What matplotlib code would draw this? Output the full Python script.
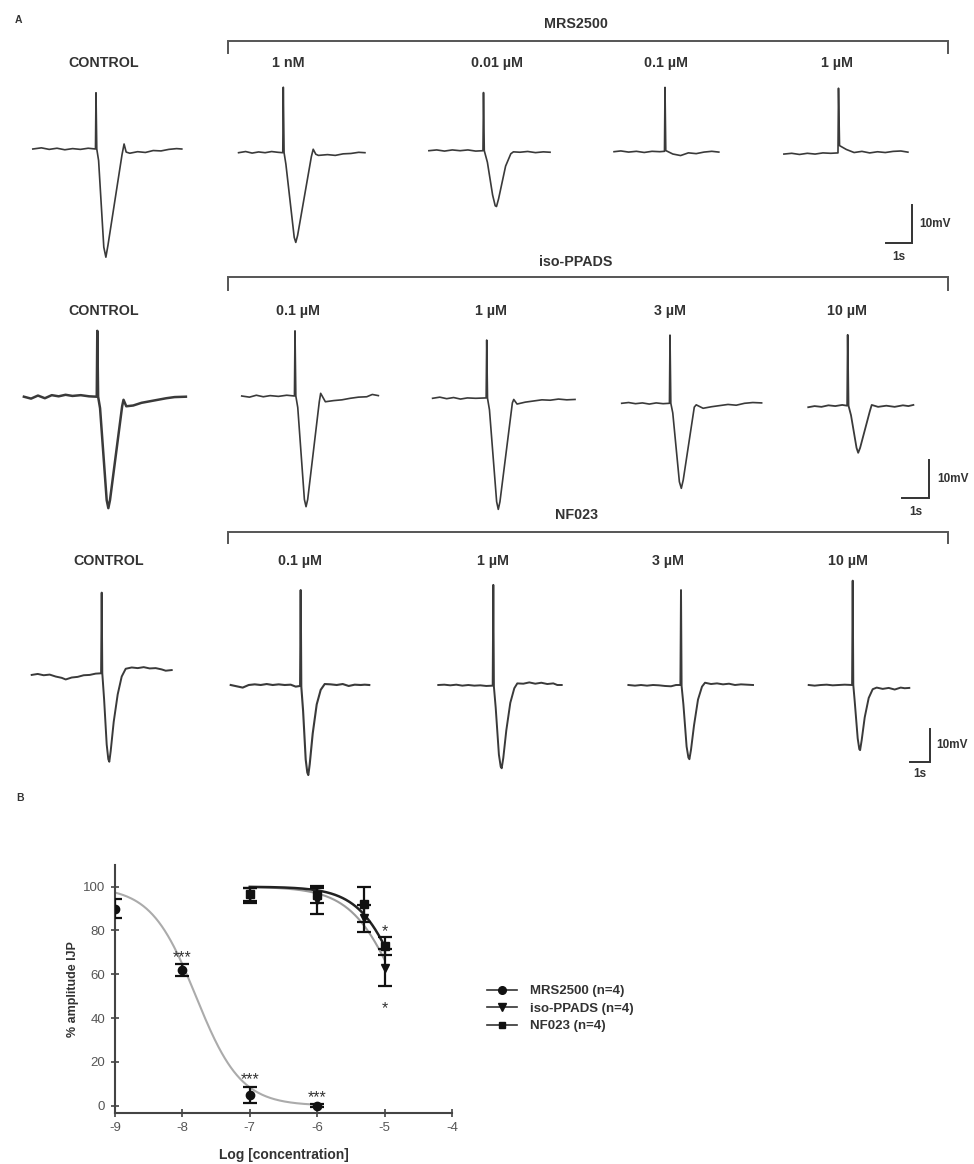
import numpy as np
import matplotlib.pyplot as plt
from matplotlib.lines import Line2D

plt.rcParams['font.family'] = ['Liberation Sans', 'DejaVu Sans']
plt.rcParams['axes.unicode_minus'] = False

W, H = 974, 1164

# ---- A: evoked responses, (time s from stimulus, mV from baseline) ----
mrs_control = [(-2.43, 0.0), (-2.1, 0.3), (-1.8, -0.1), (-1.5, 0.2), (-1.2, -0.2), (-0.9, 0.1),
               (-0.6, -0.1), (-0.3, 0.2), (-0.02, 0.0), (0.0, 14.6), (0.03, 0.0), (0.1, -3.0),
               (0.3, -25.5), (0.38, -28.1), (0.46, -25.0), (1.0, -1.5), (1.08, 1.3), (1.16, -0.8),
               (1.3, -1.1), (1.6, -0.7), (1.9, -0.9), (2.2, -0.4), (2.5, -0.5), (2.8, -0.1),
               (3.1, 0.1), (3.3, 0.0)]
mrs_1nM = [(-1.72, 0.0), (-1.45, 0.3), (-1.2, -0.1), (-0.95, 0.2), (-0.7, 0.0), (-0.45, 0.3),
           (-0.2, 0.1), (-0.02, 0.0), (0.0, 17.0), (0.03, 0.0), (0.1, -3.0), (0.42, -22.0),
           (0.48, -23.3), (0.55, -21.5), (1.08, -1.0), (1.15, 0.9), (1.25, -0.4), (1.35, -0.7),
           (1.7, -0.5), (2.0, -0.7), (2.3, -0.3), (2.6, -0.2), (2.9, 0.1), (3.14, 0.0)]
mrs_001uM = [(-2.1, 0.0), (-1.8, 0.2), (-1.5, -0.1), (-1.2, 0.2), (-0.9, 0.0), (-0.6, 0.2),
             (-0.3, -0.1), (-0.02, 0.0), (0.0, 15.1), (0.03, 0.0), (0.15, -3.0), (0.35, -11.5),
             (0.45, -14.3), (0.5, -14.5), (0.58, -12.5), (0.85, -4.0), (1.05, -0.8), (1.15, -0.3),
             (1.4, -0.4), (1.7, -0.2), (2.0, -0.5), (2.3, -0.3), (2.56, -0.4)]
mrs_01uM = [(-1.96, 0.0), (-1.7, 0.2), (-1.4, -0.1), (-1.1, 0.1), (-0.8, -0.2), (-0.5, 0.1),
            (-0.2, 0.0), (-0.02, 0.1), (0.0, 16.7), (0.03, 0.3), (0.3, -0.6), (0.6, -1.0),
            (0.9, -0.3), (1.2, -0.5), (1.5, -0.1), (1.8, 0.1), (2.07, -0.1)]
mrs_1uM = [(-2.1, -0.2), (-1.8, 0.0), (-1.5, -0.3), (-1.2, 0.0), (-0.9, -0.2), (-0.6, 0.1),
           (-0.3, 0.0), (-0.02, 0.1), (0.0, 16.9), (0.04, 2.0), (0.3, 1.0), (0.6, 0.2),
           (0.9, 0.5), (1.2, 0.1), (1.5, 0.4), (1.8, 0.2), (2.1, 0.5), (2.4, 0.6), (2.67, 0.3)]

iso_control = [(-2.66, 0.0), (-2.4, -0.5), (-2.15, 0.3), (-1.9, -0.4), (-1.65, 0.4), (-1.4, 0.1),
               (-1.15, 0.5), (-0.9, 0.2), (-0.6, 0.4), (-0.3, 0.1), (-0.02, 0.0), (0.0, 17.2),
               (0.03, 0.0), (0.1, -3.0), (0.34, -27.0), (0.40, -29.1), (0.46, -27.0), (0.9, -2.5),
               (0.95, -0.8), (1.05, -2.5), (1.3, -2.3), (1.6, -1.6), (1.9, -1.2), (2.2, -0.8),
               (2.5, -0.4), (2.8, -0.1), (3.21, 0.0)]
iso_01uM = [(-1.93, 0.0), (-1.65, -0.3), (-1.4, 0.2), (-1.15, -0.2), (-0.9, 0.1), (-0.6, -0.1),
            (-0.3, 0.2), (-0.02, 0.0), (0.0, 17.0), (0.03, 0.0), (0.1, -3.0), (0.34, -27.0),
            (0.40, -28.9), (0.46, -27.0), (0.88, -1.5), (0.93, 0.7), (1.1, -1.5), (1.4, -1.2),
            (1.7, -1.0), (2.0, -0.6), (2.3, -0.3), (2.6, -0.2), (2.8, 0.4), (3.02, 0.1)]
iso_1uM = [(-1.96, 0.0), (-1.7, 0.3), (-1.45, -0.1), (-1.2, 0.2), (-0.95, -0.2), (-0.7, 0.1),
           (-0.4, 0.0), (-0.02, 0.1), (0.0, 15.2), (0.03, 0.0), (0.1, -3.0), (0.36, -27.0),
           (0.42, -29.0), (0.48, -27.0), (0.93, -1.2), (0.98, -0.3), (1.1, -1.5), (1.4, -1.0),
           (1.7, -0.7), (2.0, -0.4), (2.3, -0.5), (2.6, -0.2), (2.9, -0.4), (3.2, -0.3)]
iso_3uM = [(-1.75, 0.0), (-1.5, 0.2), (-1.25, -0.1), (-1.0, 0.1), (-0.75, -0.2), (-0.5, 0.1),
           (-0.25, -0.1), (-0.02, 0.0), (0.0, 17.8), (0.03, 0.0), (0.1, -2.5), (0.34, -20.5),
           (0.41, -22.2), (0.48, -20.0), (0.88, -1.0), (0.95, -0.4), (1.2, -1.3), (1.5, -0.9),
           (1.8, -0.6), (2.1, -0.3), (2.4, -0.5), (2.7, 0.0), (3.0, 0.2), (3.32, 0.1)]
iso_10uM = [(-1.43, -0.4), (-1.2, -0.1), (-0.95, -0.3), (-0.7, 0.1), (-0.45, -0.1), (-0.2, 0.2),
            (-0.02, 0.0), (0.0, 18.5), (0.03, 0.0), (0.12, -2.5), (0.32, -11.0), (0.38, -12.3),
            (0.45, -11.0), (0.8, -1.5), (0.87, 0.2), (1.1, -0.3), (1.4, 0.0), (1.7, -0.3),
            (2.0, 0.1), (2.2, -0.1), (2.38, 0.2)]

nf_control = [(-3.5, -0.5), (-3.2, -0.2), (-2.9, -0.6), (-2.6, -0.4), (-2.3, -1.0), (-2.0, -1.4),
              (-1.8, -1.9), (-1.5, -1.3), (-1.2, -1.1), (-0.9, -0.6), (-0.6, -0.5), (-0.3, -0.1),
              (-0.03, 0.0), (0.0, 24.9), (0.03, 0.0), (0.12, -8.0), (0.25, -22.0), (0.33, -26.5),
              (0.38, -27.3), (0.45, -24.0), (0.6, -15.0), (0.8, -6.5), (1.0, -1.0), (1.2, 1.4),
              (1.5, 1.8), (1.8, 1.6), (2.1, 1.9), (2.4, 1.5), (2.7, 1.6), (3.0, 1.2), (3.2, 0.8),
              (3.5, 1.0)]
nf_01uM = [(-3.5, 0.0), (-3.2, -0.4), (-2.9, -0.8), (-2.6, 0.0), (-2.3, 0.2), (-2.0, 0.0),
           (-1.7, 0.3), (-1.4, 0.0), (-1.1, 0.2), (-0.8, 0.0), (-0.5, 0.1), (-0.25, -0.5),
           (-0.03, -0.3), (0.0, 29.3), (0.03, -0.5), (0.12, -8.0), (0.25, -23.0), (0.33, -27.0),
           (0.38, -27.8), (0.45, -24.5), (0.6, -15.0), (0.8, -6.0), (1.0, -1.5), (1.2, 0.3),
           (1.5, 0.2), (1.8, 0.0), (2.1, 0.3), (2.4, -0.3), (2.7, 0.1), (3.0, 0.0), (3.2, 0.1),
           (3.43, 0.0)]
nf_1uM = [(-2.75, 0.0), (-2.45, 0.1), (-2.15, -0.1), (-1.85, 0.1), (-1.55, -0.2), (-1.25, 0.0),
          (-0.95, -0.2), (-0.65, -0.1), (-0.35, -0.3), (-0.03, -0.2), (0.0, 30.9), (0.03, -0.5),
          (0.12, -7.0), (0.28, -21.5), (0.37, -25.2), (0.42, -25.7), (0.5, -22.5), (0.65, -14.0),
          (0.85, -5.5), (1.05, -1.0), (1.2, 0.5), (1.5, 0.4), (1.8, 0.8), (2.1, 0.4), (2.4, 0.7),
          (2.7, 0.3), (3.0, 0.5), (3.2, 0.0), (3.42, 0.0)]
nf_3uM = [(-2.63, 0.0), (-2.3, -0.2), (-2.0, 0.0), (-1.7, -0.2), (-1.4, 0.0), (-1.1, -0.1),
          (-0.8, -0.3), (-0.5, -0.4), (-0.25, 0.0), (-0.03, 0.0), (0.0, 29.3), (0.03, -0.3),
          (0.12, -6.0), (0.28, -19.0), (0.37, -22.4), (0.42, -22.9), (0.5, -20.0), (0.65, -12.5),
          (0.85, -4.5), (1.05, -0.5), (1.2, 0.7), (1.5, 0.3), (1.8, 0.5), (2.1, 0.2), (2.4, 0.4),
          (2.7, 0.0), (3.0, 0.2), (3.3, 0.1), (3.6, 0.0)]
nf_10uM = [(-2.2, 0.0), (-1.9, -0.2), (-1.6, 0.0), (-1.3, 0.1), (-1.0, -0.1), (-0.7, 0.0),
           (-0.4, 0.1), (-0.03, 0.0), (0.0, 32.2), (0.03, 0.0), (0.1, -5.0), (0.25, -16.5),
           (0.33, -19.8), (0.37, -20.1), (0.45, -17.0), (0.6, -10.0), (0.8, -4.0), (1.0, -1.3),
           (1.2, -0.8), (1.5, -1.2), (1.8, -0.9), (2.1, -1.4), (2.4, -0.8), (2.6, -1.0),
           (2.83, -0.9)]

mrs_labels = ['CONTROL', '1 nM', '0.01 µM', '0.1 µM', '1 µM']
iso_labels = ['CONTROL', '0.1 µM', '1 µM', '3 µM', '10 µM']
nf_labels = ['CONTROL', '0.1 µM', '1 µM', '3 µM', '10 µM']

# ---- B: concentration-response, mean ± SEM (% of control IJP) ----
mrs_logc = [-9, -8, -7, -6]
mrs_mean = [90, 62, 5, 0]
mrs_sem = [4.3, 2.7, 3.7, 0.6]
iso_logc = [-7, -6, -5.3, -5]
iso_mean = [96, 94, 85.5, 63]
iso_sem = [3.5, 6.5, 6.0, 8.5]
nf_logc = [-7, -6, -5.3, -5]
nf_mean = [96.5, 96, 92, 73]
nf_sem = [3.0, 3.5, 8.0, 4.0]
# sigmoid fits: top, bottom, logIC50, hill slope
mrs_fit = (100, 0, -7.8, 1.3)
iso_fit = (100, 0, -4.75, 1.2)
nf_fit = (100, 0, -4.68, 1.34)

fig = plt.figure(figsize=(W / 100, H / 100), dpi=100)
fig.patch.set_facecolor('white')

# overlay in pixel units for brackets / labels
ov = fig.add_axes([0, 0, 1, 1])
ov.set_xlim(0, W)
ov.set_ylim(H, 0)
ov.axis('off')

tcol = '#3a3a3a'
lab_kw = dict(ha='center', va='center', fontsize=10.3, fontweight='bold', color='#333333')

rows = [
    dict(title='MRS2500', title_y=24, br_y=40.7, br_tick=12, lab_y=63, pps=26, ppm=3.85,
         traces=[mrs_control, mrs_1nM, mrs_001uM, mrs_01uM, mrs_1uM], labels=mrs_labels,
         lab_x=[104, 288.7, 497, 665.6, 836.6],
         anchors=[(96, 149), (283.3, 152.7), (483.5, 150.7), (665, 151.7), (838.5, 153.3)],
         bar=(911.7, 243), lw=[1.2] * 5),
    dict(title='iso-PPADS', title_y=262, br_y=277.3, br_tick=13, lab_y=311, pps=27.6, ppm=3.83,
         traces=[iso_control, iso_01uM, iso_1uM, iso_3uM, iso_10uM], labels=iso_labels,
         lab_x=[104, 298.3, 491, 670, 846.7],
         anchors=[(97.3, 396.7), (295, 396), (486.7, 398.3), (670, 403.3), (847.7, 405.7)],
         bar=(929.3, 498.3), lw=[1.8, 1.2, 1.2, 1.2, 1.3]),
    dict(title='NF023', title_y=515, br_y=531.7, br_tick=11.6, lab_y=561, pps=20, ppm=3.24,
         traces=[nf_control, nf_01uM, nf_1uM, nf_3uM, nf_10uM], labels=nf_labels,
         lab_x=[108.3, 300, 493, 668.3, 848.3],
         anchors=[(101.7, 673.3), (300.7, 685), (493.3, 685), (681, 685), (852.7, 685)],
         bar=(930, 761.7), lw=[1.4, 1.5, 1.4, 1.4, 1.4]),
]

for r in rows:
    ov.text(576, r['title_y'], r['title'], **lab_kw)
    ov.plot([228, 228, 948, 948], [r['br_y'] + r['br_tick'], r['br_y'], r['br_y'], r['br_y'] + r['br_tick']],
            color='#555555', lw=1.4, solid_joinstyle='miter')
    for lx, lab in zip(r['lab_x'], r['labels']):
        ov.text(lx, r['lab_y'], lab, **lab_kw)

    pps, ppm = r['pps'], r['ppm']
    for (sx, by), tr, lw in zip(r['anchors'], r['traces'], r['lw']):
        ax = fig.add_axes([(sx - 4 * pps) / W, 1 - (by + 36 * ppm) / H, 8 * pps / W, 72 * ppm / H])
        ax.set_xlim(-4, 4)
        ax.set_ylim(-36, 36)
        ax.axis('off')
        t, v = zip(*tr)
        ax.plot(t, v, color=tcol, lw=lw, solid_joinstyle='round')

    # 1 s / 10 mV calibration
    bx, byy = r['bar']
    ax = fig.add_axes([(bx - 2 * pps) / W, 1 - (byy + 2 * ppm) / H, 4 * pps / W, 14 * ppm / H])
    ax.set_xlim(-2, 2)
    ax.set_ylim(-2, 12)
    ax.axis('off')
    ax.plot([-1, 0, 0], [0, 0, 10], color='#333333', lw=1.4, solid_joinstyle='miter')
    ax.text(0.3, 5, '10mV', ha='left', va='center', fontsize=8.5, fontweight='bold', color='#333333')
    ax.text(-0.5, -2.0, '1s', ha='center', va='top', fontsize=8.5, fontweight='bold', color='#333333')

ov.text(18, 20, 'A', ha='center', va='center', fontsize=7.5, fontweight='bold', color='#333333')
ov.text(20, 798, 'B', ha='center', va='center', fontsize=7.5, fontweight='bold', color='#333333')

# ---- B ----
axb = fig.add_axes([115 / W, 1 - 1112.7 / H, 337 / W, 247.9 / H])
axb.set_xlim(-9, -4)
axb.set_ylim(-3.2, 110)


def hill(x, p):
    top, bottom, logic50, h = p
    return bottom + (top - bottom) / (1 + 10 ** ((x - logic50) * h))


xs = np.linspace(-9, -6, 200)
axb.plot(xs, hill(xs, mrs_fit), color='#ababab', lw=1.5, zorder=2)
xs = np.linspace(-7, -5, 200)
axb.plot(xs, hill(xs, iso_fit), color='#9c9c9c', lw=1.5, zorder=2)
axb.plot(xs, hill(xs, nf_fit), color='#222222', lw=1.8, zorder=2)

eb_kw = dict(color='#111111', ms=6, capsize=5, elinewidth=1.6, capthick=1.6, ls='none', zorder=3)
axb.errorbar(mrs_logc, mrs_mean, yerr=mrs_sem, marker='o', **eb_kw)
axb.errorbar(iso_logc, iso_mean, yerr=iso_sem, marker='v', **eb_kw)
axb.errorbar(nf_logc, nf_mean, yerr=nf_sem, marker='s', **eb_kw)

star_kw = dict(ha='center', va='center', fontsize=11.5, color='#333333')
for x, m, s in zip(mrs_logc[1:], mrs_mean[1:], mrs_sem[1:]):
    axb.text(x, m + s + 3.0, '***', **star_kw)
axb.text(nf_logc[-1], nf_mean[-1] + nf_sem[-1] + 2.5, '*', **star_kw)
axb.text(iso_logc[-1], iso_mean[-1] - iso_sem[-1] - 10.0, '*', **star_kw)

for sp in ['top', 'right']:
    axb.spines[sp].set_visible(False)
for sp in ['left', 'bottom']:
    axb.spines[sp].set_color('#444444')
    axb.spines[sp].set_linewidth(1.5)
axb.set_xticks([-9, -8, -7, -6, -5, -4])
axb.set_yticks([0, 20, 40, 60, 80, 100])
axb.tick_params(direction='inout', length=6, width=1.2, color='#444444',
                labelsize=9.5, labelcolor='#555555', pad=4)
axb.set_xlabel('Log [concentration]', fontsize=10, fontweight='bold', color='#333333', labelpad=10)
axb.set_ylabel('% amplitude IJP', fontsize=9, fontweight='bold', color='#333333', labelpad=3)
axb.patch.set_alpha(0)

handles = [
    Line2D([], [], color='#333333', lw=1.2, marker='o', ms=5.5, mfc='#111111', mec='#111111'),
    Line2D([], [], color='#333333', lw=1.2, marker='v', ms=5.5, mfc='#111111', mec='#111111'),
    Line2D([], [], color='#333333', lw=1.2, marker='s', ms=5, mfc='#111111', mec='#111111'),
]
fig.legend(handles, ['MRS2500 (n=4)', 'iso-PPADS (n=4)', 'NF023 (n=4)'],
           loc='upper left', bbox_to_anchor=(487 / W, 1 - 985 / H), frameon=False,
           handlelength=2.3, handletextpad=0.95, labelspacing=0.4, borderpad=0, borderaxespad=0,
           prop=dict(size=9.5, weight='bold'), labelcolor='#333333')

fig.savefig('out.png', dpi=100)
